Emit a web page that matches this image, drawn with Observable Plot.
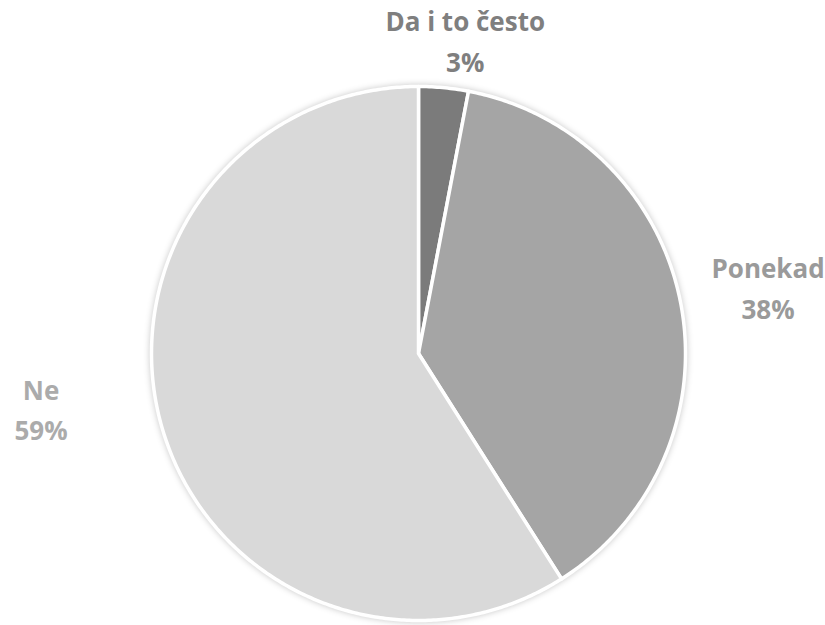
<!DOCTYPE html>
<html>
<head>
<meta charset="utf-8">
<script src="https://cdn.jsdelivr.net/npm/d3@7"></script>
<script src="https://cdn.jsdelivr.net/npm/@observablehq/plot@0.6"></script>
<style>
  html, body { margin: 0; padding: 0; background: #fff; }
  #chart svg { display: block; }
  .slices { filter: drop-shadow(0 0 3px rgba(0,0,0,0.22)); }
</style>
</head>
<body>
<div id="chart"></div>
<script>
const categories = ["Da i to često", "Ponekad", "Ne"];
const values = [3, 38, 59];
const labels = ["3%", "38%", "59%"];
const sliceColors = ["#7b7b7b", "#a5a5a5", "#d9d9d9"];
const labelColors = ["#7f7f7f", "#9a9a9a", "#ababab"];

const W = 825, H = 625, cx = 418, cy = 353, R = 267;

const pie = d3.pie().sort(null).value(d => d.value)(
  categories.map((c, i) => ({category: c, value: values[i], label: labels[i]}))
);

// slice outlines in unit-circle coordinates (angle 0 = top, clockwise)
const pts = [];
pie.forEach(p => {
  const name = p.data.category;
  pts.push({category: name, x: 0, y: 0});
  const steps = Math.max(4, Math.ceil((p.endAngle - p.startAngle) / 0.01));
  for (let k = 0; k <= steps; k++) {
    const a = p.startAngle + (p.endAngle - p.startAngle) * k / steps;
    pts.push({category: name, x: Math.sin(a), y: Math.cos(a)});
  }
  pts.push({category: name, x: 0, y: 0});
});

// label anchors: mid-angle, pushed outside the rim
const nudge = {"Da i to često": [0.065, 0.015], "Ponekad": [0.16, 0.035], "Ne": [-0.29, 0.125]};
const labelData = pie.map(p => {
  const a = (p.startAngle + p.endAngle) / 2;
  const n = nudge[p.data.category];
  return {
    category: p.data.category,
    text: p.data.category + "\n" + p.data.label,
    x: Math.sin(a) * 1.17 + n[0],
    y: Math.cos(a) * 1.17 + n[1]
  };
});

const chart = Plot.plot({
  width: W,
  height: H,
  margin: 0,
  x: {domain: [-cx / R, (W - cx) / R], axis: null},
  y: {domain: [-(H - cy) / R, cy / R], axis: null},
  color: {domain: categories, range: sliceColors},
  style: {fontFamily: "'Open Sans', sans-serif", background: "#fff"},
  marks: [
    Plot.line(pts, {
      x: "x", y: "y", z: "category",
      fill: "category", stroke: "white", strokeWidth: 3.5,
      strokeLinejoin: "round", curve: "linear",
      className: "slices"
    }),
    Plot.text(labelData, {
      x: "x", y: "y", text: "text",
      fill: d => labelColors[categories.indexOf(d.category)],
      fontSize: 26, fontWeight: "bold", lineHeight: 1.55,
      textAnchor: "middle"
    })
  ]
});
document.getElementById("chart").append(chart);
</script>
</body>
</html>
